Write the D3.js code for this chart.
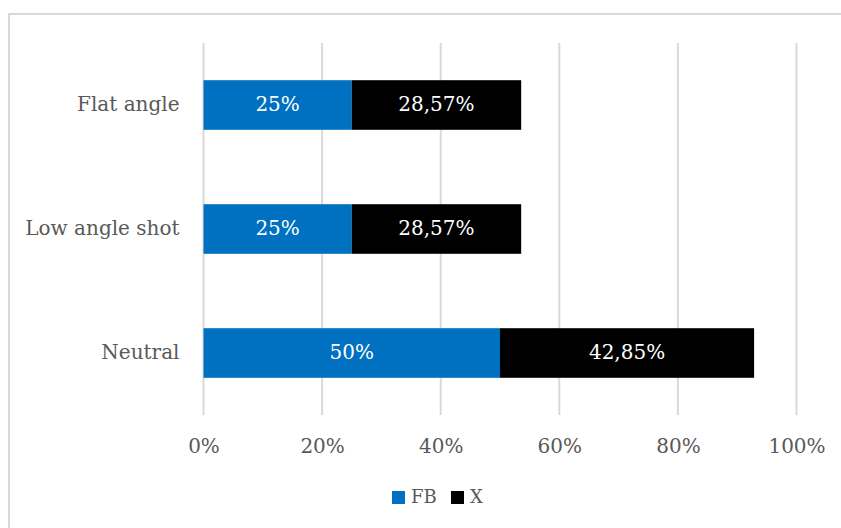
<!DOCTYPE html>
<html><head><meta charset="utf-8">
<script src="https://cdn.jsdelivr.net/npm/d3@7"></script>
<style>html,body{margin:0;padding:0;background:#fff;}svg{display:block;}</style>
</head><body>
<svg id="chart" width="841" height="528"></svg>
<script>
const categories = ["Flat angle", "Low angle shot", "Neutral"];
const fbValues = [25, 25, 50];
const xValues = [28.57, 28.57, 42.85];
const xLabels = ["28,57%", "28,57%", "42,85%"];
const tickValues = [0, 20, 40, 60, 80, 100];
const seriesNames = ["FB", "X"];
const seriesColors = ["#0070C0", "#000000"];

const FONT = "'DejaVu Serif', 'Liberation Serif', serif";
const FS = 20;
const svg = d3.select("#chart");
svg.append("rect").attr("x", 9).attr("y", 14).attr("width", 900).attr("height", 600)
  .attr("fill", "#fff").attr("stroke", "#d9d9d9").attr("stroke-width", 2);

const x = d3.scaleLinear().domain([0, 100]).range([203.5, 796.5]);
const y = d3.scaleBand().domain(categories).range([43, 415]).paddingInner(0.6).paddingOuter(0.3);

// gridlines
svg.append("g").selectAll("line").data(tickValues).join("line")
  .attr("x1", d => x(d)).attr("x2", d => x(d)).attr("y1", 43).attr("y2", 415)
  .attr("stroke", "#d9d9d9").attr("stroke-width", 2);

// axis labels
const xAxis = d3.axisBottom(x).tickValues(tickValues).tickFormat(d => d + "%").tickSize(0);
const gx = svg.append("g").attr("transform", "translate(0,415)").call(xAxis);
gx.select(".domain").remove();
gx.selectAll("text").attr("font-family", FONT).attr("font-size", FS).attr("fill", "#595959")
  .attr("dy", null).attr("y", 32).attr("dominant-baseline", "middle");

const yAxis = d3.axisLeft(y).tickSize(0).tickPadding(24);
const gy = svg.append("g").attr("transform", "translate(203.5,0)").call(yAxis);
gy.select(".domain").remove();
gy.selectAll("text").attr("font-family", FONT).attr("font-size", FS).attr("fill", "#595959")
  .attr("dy", null).attr("dominant-baseline", "middle");

const rows = categories.map((c, i) => ({c, fb: fbValues[i], xv: xValues[i], xl: xLabels[i]}));

const g = svg.append("g");
g.selectAll("rect.fb").data(rows).join("rect").attr("class", "fb")
  .attr("x", x(0)).attr("y", d => y(d.c)).attr("height", y.bandwidth())
  .attr("width", d => x(d.fb) - x(0)).attr("fill", seriesColors[0]);
g.selectAll("rect.xx").data(rows).join("rect").attr("class", "xx")
  .attr("x", d => x(d.fb)).attr("y", d => y(d.c)).attr("height", y.bandwidth())
  .attr("width", d => x(d.fb + d.xv) - x(d.fb)).attr("fill", seriesColors[1]);

g.selectAll("text.lfb").data(rows).join("text").attr("class", "lfb")
  .attr("x", d => (x(0) + x(d.fb)) / 2).attr("y", d => y(d.c) + y.bandwidth() / 2)
  .attr("text-anchor", "middle").attr("dominant-baseline", "middle")
  .attr("font-family", FONT).attr("font-size", FS).attr("fill", "#fff")
  .text(d => d.fb + "%");
g.selectAll("text.lx").data(rows).join("text").attr("class", "lx")
  .attr("x", d => (x(d.fb) + x(d.fb + d.xv)) / 2).attr("y", d => y(d.c) + y.bandwidth() / 2)
  .attr("text-anchor", "middle").attr("dominant-baseline", "middle")
  .attr("font-family", FONT).attr("font-size", FS).attr("fill", "#fff")
  .text(d => d.xl);

// legend
const legend = svg.append("g");
const legItems = [{n: seriesNames[0], c: seriesColors[0], x: 392}, {n: seriesNames[1], c: seriesColors[1], x: 451}];
legItems.forEach(it => {
  legend.append("rect").attr("x", it.x).attr("y", 491).attr("width", 13).attr("height", 13).attr("fill", it.c);
  legend.append("text").attr("x", it.x + 19).attr("y", 497.5).attr("dominant-baseline", "middle")
    .attr("font-family", FONT).attr("font-size", 18).attr("fill", "#595959").text(it.n);
});
</script>
</body></html>
